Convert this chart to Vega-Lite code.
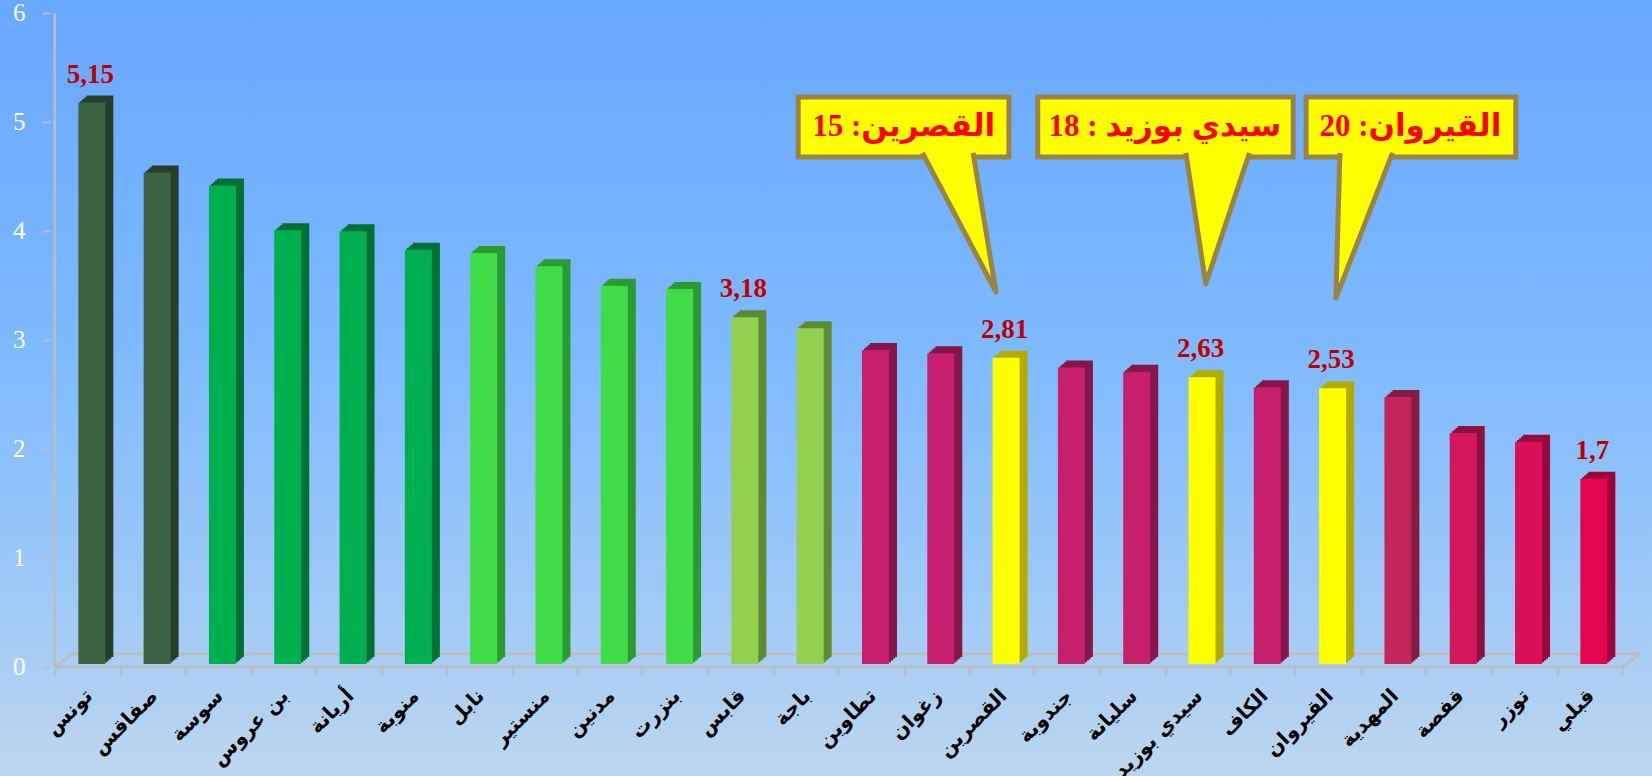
{
  "$schema": "https://vega.github.io/schema/vega-lite/v6.json",
  "width": 1652,
  "height": 776,
  "padding": 0,
  "autosize": {"type": "none"},
  "background": "#BCD6EE",
  "config": {
    "view": {
      "stroke": null,
      "fill": {"gradient": "linear", "x1": 0, "y1": 0, "x2": 0, "y2": 1,
        "stops": [
          {"offset": 0, "color": "#68A7FF"},
          {"offset": 0.45, "color": "#7EBAFF"},
          {"offset": 0.75, "color": "#9CC8F7"},
          {"offset": 1, "color": "#BDD6EE"}
        ]}
    }
  },
  "datasets": {
    "bars": [
      {"rank": 1, "name": "تونس", "value": 5.15, "label": "5,15"},
      {"rank": 2, "name": "صفاقس", "value": 4.51},
      {"rank": 3, "name": "سوسة", "value": 4.39},
      {"rank": 4, "name": "بن عروس", "value": 3.98},
      {"rank": 5, "name": "أريانة", "value": 3.97},
      {"rank": 6, "name": "منوبة", "value": 3.80},
      {"rank": 7, "name": "نابل", "value": 3.77},
      {"rank": 8, "name": "منستير", "value": 3.65},
      {"rank": 9, "name": "مدنين", "value": 3.47},
      {"rank": 10, "name": "بنزرت", "value": 3.44},
      {"rank": 11, "name": "قابس", "value": 3.18, "label": "3,18"},
      {"rank": 12, "name": "باجة", "value": 3.08},
      {"rank": 13, "name": "تطاوين", "value": 2.88},
      {"rank": 14, "name": "زغوان", "value": 2.85},
      {"rank": 15, "name": "القصرين", "value": 2.81, "label": "2,81"},
      {"rank": 16, "name": "جندوبة", "value": 2.72},
      {"rank": 17, "name": "سليانة", "value": 2.68},
      {"rank": 18, "name": "سيدي بوزيد", "value": 2.63, "label": "2,63"},
      {"rank": 19, "name": "الكاف", "value": 2.54},
      {"rank": 20, "name": "القيروان", "value": 2.53, "label": "2,53"},
      {"rank": 21, "name": "المهدية", "value": 2.45},
      {"rank": 22, "name": "قفصة", "value": 2.12},
      {"rank": 23, "name": "توزر", "value": 2.04},
      {"rank": 24, "name": "قبلي", "value": 1.7, "label": "1,7"}
    ]
  },
  "data": {"name": "bars"},
  "layer": [
    {
      "mark": {"type": "bar", "width": 27, "xOffset": 4.5, "yOffset": -3, "y2Offset": -3},
      "encoding": {
        "x": {"field": "rank", "type": "quantitative",
          "scale": {"domain": [-0.261, 24.883], "nice": false, "zero": false},
          "axis": {"orient": "bottom", "offset": -109, "values": [0.5, 1.5, 2.5, 3.5, 4.5, 5.5, 6.5, 7.5, 8.5, 9.5, 10.5, 11.5, 12.5, 13.5, 14.5, 15.5, 16.5, 17.5, 18.5, 19.5, 20.5, 21.5, 22.5, 23.5, 24.5], "domain": false, "grid": false, "ticks": true, "tickSize": 8, "tickColor": "#BDBDBD", "tickWidth": 2, "labels": false, "title": null}},
        "y": {"field": "value", "type": "quantitative",
          "scale": {"domain": [-1, 6.119], "nice": false, "zero": false},
          "axis": {"values": [0, 1, 2, 3, 4, 5, 6], "format": "d", "offset": -50, "domain": false, "grid": false, "ticks": true, "tickSize": 8, "tickColor": "#BDBDBD", "tickWidth": 2, "labelColor": "#FFFFFF", "labelFont": "Liberation Serif", "labelFontSize": 25, "labelPadding": 17, "title": null}},
        "y2": {"datum": 0},
        "opacity": {"value": 0}
      }
    },
    {
      "data": {"values": [{}]},
      "mark": {"type": "rule", "color": "#BDBDBD", "strokeWidth": 2.5, "xOffset": 18, "x2Offset": 18, "yOffset": -13},
      "encoding": {
        "x": {"datum": 0.5, "type": "quantitative"},
        "x2": {"datum": 24.5},
        "y": {"datum": 0, "type": "quantitative"}
      }
    },
    {
      "data": {"values": [{}]},
      "mark": {"type": "rule", "color": "#BDBDBD", "strokeWidth": 2.5, "x2Offset": 18, "y2Offset": -13},
      "encoding": {
        "x": {"datum": 0.5, "type": "quantitative"},
        "x2": {"datum": 0.5},
        "y": {"datum": 0, "type": "quantitative"},
        "y2": {"datum": 0}
      }
    },
    {
      "data": {"values": [{}]},
      "mark": {"type": "rule", "color": "#BDBDBD", "strokeWidth": 2.5, "x2Offset": 18, "y2Offset": -13},
      "encoding": {
        "x": {"datum": 24.5, "type": "quantitative"},
        "x2": {"datum": 24.5},
        "y": {"datum": 0, "type": "quantitative"},
        "y2": {"datum": 0}
      }
    },
    {
      "data": {"values": [{}]},
      "mark": {"type": "rule", "color": "#BDBDBD", "strokeWidth": 2.5},
      "encoding": {
        "x": {"datum": 0.5, "type": "quantitative"},
        "x2": {"datum": 24.5},
        "y": {"datum": 0, "type": "quantitative"}
      }
    },
    {
      "data": {"values": [{}]},
      "mark": {"type": "rule", "color": "#BDBDBD", "strokeWidth": 2.5},
      "encoding": {
        "x": {"datum": 0.5, "type": "quantitative"},
        "y": {"datum": 0, "type": "quantitative"},
        "y2": {"datum": 6}
      }
    },
    {
      "mark": {"type": "bar", "width": 27, "xOffset": 6.5, "yOffset": -4.75, "y2Offset": -4.75},
      "encoding": {
        "x": {"field": "rank", "type": "quantitative"},
        "y": {"field": "value", "type": "quantitative"},
        "y2": {"datum": 0},
        "fill": {"field": "name", "type": "nominal", "legend": null,
          "scale": {
            "domain": ["تونس", "صفاقس", "سوسة", "بن عروس", "أريانة", "منوبة", "نابل", "منستير", "مدنين", "بنزرت", "قابس", "باجة", "تطاوين", "زغوان", "القصرين", "جندوبة", "سليانة", "سيدي بوزيد", "الكاف", "القيروان", "المهدية", "قفصة", "توزر", "قبلي"],
            "range": ["#263F2B", "#263F2B", "#007034", "#007034", "#007034", "#007034", "#2A9A31", "#2A9A31", "#2A9A31", "#2A9A31", "#5E8A34", "#5E8A34", "#85164A", "#85164A", "#B2AB00", "#85164A", "#85164A", "#B2AB00", "#85164A", "#B2AB00", "#861A40", "#8E1040", "#960A3C", "#9C0236"]
          }}
      }
    },
    {
      "mark": {"type": "bar", "width": 27, "xOffset": 8.5, "yOffset": -6.5, "y2Offset": -6.5},
      "encoding": {
        "x": {"field": "rank", "type": "quantitative"},
        "y": {"field": "value", "type": "quantitative"},
        "y2": {"datum": 0},
        "fill": {"field": "name", "type": "nominal", "legend": null}
      }
    },
    {
      "mark": {"type": "bar", "width": 27, "xOffset": 10.5, "yOffset": -8.25, "y2Offset": -8.25},
      "encoding": {
        "x": {"field": "rank", "type": "quantitative"},
        "y": {"field": "value", "type": "quantitative"},
        "y2": {"datum": 0},
        "fill": {"field": "name", "type": "nominal", "legend": null}
      }
    },
    {
      "mark": {"type": "bar", "width": 27, "xOffset": 12.5, "yOffset": -10, "y2Offset": -10},
      "encoding": {
        "x": {"field": "rank", "type": "quantitative"},
        "y": {"field": "value", "type": "quantitative"},
        "y2": {"datum": 0},
        "fill": {"field": "name", "type": "nominal", "legend": null}
      }
    },
    {
      "mark": {"type": "bar", "width": 27, "xOffset": 4.5, "yOffset": -3, "y2Offset": -3},
      "encoding": {
        "x": {"field": "rank", "type": "quantitative"},
        "y": {"field": "value", "type": "quantitative"},
        "y2": {"datum": 0},
        "color": {"field": "name", "type": "nominal", "legend": null,
          "scale": {
            "domain": ["تونس", "صفاقس", "سوسة", "بن عروس", "أريانة", "منوبة", "نابل", "منستير", "مدنين", "بنزرت", "قابس", "باجة", "تطاوين", "زغوان", "القصرين", "جندوبة", "سليانة", "سيدي بوزيد", "الكاف", "القيروان", "المهدية", "قفصة", "توزر", "قبلي"],
            "range": ["#3B6243", "#3B6243", "#00B050", "#00B050", "#00B050", "#00B050", "#40DC47", "#40DC47", "#40DC47", "#40DC47", "#92D050", "#92D050", "#C51F6E", "#C51F6E", "#FFFF00", "#C51F6E", "#C51F6E", "#FFFF00", "#C51F6E", "#FFFF00", "#C4265C", "#D3175C", "#DB0F57", "#E3054F"]
          }}
      }
    },
    {
      "transform": [{"filter": "datum.label != null"}],
      "mark": {"type": "text", "font": "Liberation Serif", "fontWeight": "bold", "fontSize": 27, "color": "#C00000", "baseline": "alphabetic", "align": "center", "xOffset": 3, "yOffset": -23},
      "encoding": {
        "x": {"field": "rank", "type": "quantitative"},
        "y": {"field": "value", "type": "quantitative"},
        "text": {"field": "label"}
      }
    },
    {
      "mark": {"type": "text", "font": "DejaVu Sans", "fontWeight": "bold", "fontSize": 20, "color": "#000000", "angle": 315, "align": "right", "baseline": "middle", "xOffset": 2, "yOffset": 26},
      "encoding": {
        "x": {"field": "rank", "type": "quantitative"},
        "y": {"datum": 0, "type": "quantitative"},
        "text": {"field": "name"}
      }
    },
    {
      "data": {"values": [
        {"bx": 11.885, "bx2": 15.112, "by": 5.229, "by2": 4.679},
        {"bx": 15.553, "bx2": 19.465, "by": 5.229, "by2": 4.679},
        {"bx": 19.663, "bx2": 22.874, "by": 5.229, "by2": 4.679}
      ]},
      "mark": {"type": "rect", "fill": "#FFFF00", "stroke": "#988447", "strokeWidth": 5},
      "encoding": {
        "x": {"field": "bx", "type": "quantitative"},
        "x2": {"field": "bx2"},
        "y": {"field": "by", "type": "quantitative"},
        "y2": {"field": "by2"}
      }
    },
    {
      "data": {"values": [
        {"id": 1, "k": 0, "px": 13.788, "py": 4.716},
        {"id": 1, "k": 1, "px": 14.914, "py": 3.44},
        {"id": 1, "k": 2, "px": 14.564, "py": 4.716},
        {"id": 2, "k": 0, "px": 17.821, "py": 4.716},
        {"id": 2, "k": 1, "px": 18.126, "py": 3.514},
        {"id": 2, "k": 2, "px": 18.795, "py": 4.716},
        {"id": 3, "k": 0, "px": 20.18, "py": 4.716},
        {"id": 3, "k": 1, "px": 20.119, "py": 3.385},
        {"id": 3, "k": 2, "px": 20.987, "py": 4.716}
      ]},
      "mark": {"type": "line", "fill": "#FFFF00", "stroke": "#988447", "strokeWidth": 5, "strokeJoin": "round"},
      "encoding": {
        "x": {"field": "px", "type": "quantitative"},
        "y": {"field": "py", "type": "quantitative"},
        "detail": {"field": "id"},
        "order": {"field": "k"}
      }
    },
    {
      "data": {"values": [
        {"tx": 13.5, "ty": 4.954, "txt": "القصرين: 15"},
        {"tx": 17.5, "ty": 4.954, "txt": "سيدي بوزيد : 18"},
        {"tx": 21.26, "ty": 4.954, "txt": "القيروان: 20"}
      ]},
      "mark": {"type": "text", "font": "Liberation Serif, DejaVu Sans", "fontWeight": "bold", "fontSize": 31, "color": "#FF0000", "dir": "rtl", "align": "center", "baseline": "middle"},
      "encoding": {
        "x": {"field": "tx", "type": "quantitative"},
        "y": {"field": "ty", "type": "quantitative"},
        "text": {"field": "txt"}
      }
    }
  ]
}
